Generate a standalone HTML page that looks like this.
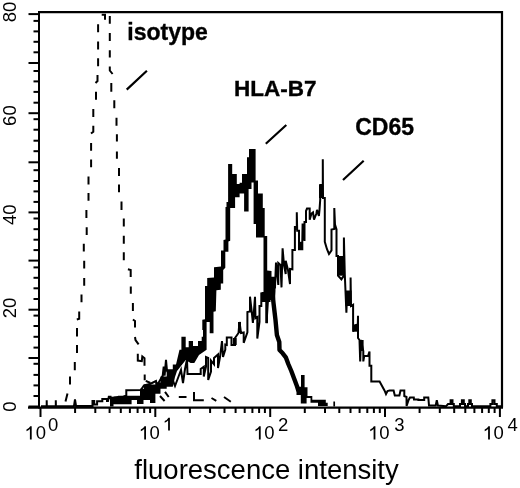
<!DOCTYPE html>
<html><head><meta charset="utf-8"><style>
html,body{margin:0;padding:0;background:#fff;}
body{width:520px;height:488px;position:relative;overflow:hidden;font-family:"Liberation Sans",sans-serif;}
svg{position:absolute;left:0;top:0;filter:grayscale(1);}
</style></head><body>
<svg width="520" height="488" viewBox="0 0 520 488">
<path d="M39 12.1 H502 V407.5" fill="none" stroke="#000" stroke-width="2.2"/>
<path d="M39 11 V408.5" fill="none" stroke="#000" stroke-width="2"/>
<path d="M28 407.6 H503" fill="none" stroke="#000" stroke-width="2.2"/>
<path d="M28.5 14.1 H39" stroke="#000" stroke-width="2"/>
<path d="M33.5 20.9 H39" stroke="#000" stroke-width="2"/>
<path d="M33.5 31.4 H39" stroke="#000" stroke-width="2"/>
<path d="M33.5 41.8 H39" stroke="#000" stroke-width="2"/>
<path d="M33.5 52.3 H39" stroke="#000" stroke-width="2"/>
<path d="M28.5 63 H39" stroke="#000" stroke-width="2"/>
<path d="M33.5 71 H39" stroke="#000" stroke-width="2"/>
<path d="M33.5 81.4 H39" stroke="#000" stroke-width="2"/>
<path d="M33.5 91.9 H39" stroke="#000" stroke-width="2"/>
<path d="M33.5 102.7 H39" stroke="#000" stroke-width="2"/>
<path d="M28.5 113.2 H39" stroke="#000" stroke-width="2"/>
<path d="M33.5 119.2 H39" stroke="#000" stroke-width="2"/>
<path d="M33.5 129.7 H39" stroke="#000" stroke-width="2"/>
<path d="M33.5 140.7 H39" stroke="#000" stroke-width="2"/>
<path d="M33.5 151.2 H39" stroke="#000" stroke-width="2"/>
<path d="M28.5 162.3 H39" stroke="#000" stroke-width="2"/>
<path d="M33.5 170.2 H39" stroke="#000" stroke-width="2"/>
<path d="M33.5 181 H39" stroke="#000" stroke-width="2"/>
<path d="M33.5 191.4 H39" stroke="#000" stroke-width="2"/>
<path d="M33.5 201.9 H39" stroke="#000" stroke-width="2"/>
<path d="M28.5 212.4 H39" stroke="#000" stroke-width="2"/>
<path d="M33.5 218.5 H39" stroke="#000" stroke-width="2"/>
<path d="M33.5 229.2 H39" stroke="#000" stroke-width="2"/>
<path d="M33.5 239.7 H39" stroke="#000" stroke-width="2"/>
<path d="M33.5 250.1 H39" stroke="#000" stroke-width="2"/>
<path d="M28.5 260.6 H39" stroke="#000" stroke-width="2"/>
<path d="M33.5 267.4 H39" stroke="#000" stroke-width="2"/>
<path d="M33.5 277.8 H39" stroke="#000" stroke-width="2"/>
<path d="M33.5 288.3 H39" stroke="#000" stroke-width="2"/>
<path d="M33.5 299 H39" stroke="#000" stroke-width="2"/>
<path d="M28.5 309.7 H39" stroke="#000" stroke-width="2"/>
<path d="M33.5 315.6 H39" stroke="#000" stroke-width="2"/>
<path d="M33.5 326 H39" stroke="#000" stroke-width="2"/>
<path d="M33.5 336.8 H39" stroke="#000" stroke-width="2"/>
<path d="M33.5 347.6 H39" stroke="#000" stroke-width="2"/>
<path d="M28.5 358 H39" stroke="#000" stroke-width="2"/>
<path d="M33.5 363.8 H39" stroke="#000" stroke-width="2"/>
<path d="M33.5 374.9 H39" stroke="#000" stroke-width="2"/>
<path d="M33.5 385.4 H39" stroke="#000" stroke-width="2"/>
<path d="M33.5 396 H39" stroke="#000" stroke-width="2"/>
<path d="M28.5 406.5 H39" stroke="#000" stroke-width="2"/>
<path d="M40.5 407.5 V417" stroke="#000" stroke-width="2"/>
<path d="M75.1 407.5 V413" stroke="#000" stroke-width="2"/>
<path d="M95.3 407.5 V413" stroke="#000" stroke-width="2"/>
<path d="M109.6 407.5 V413" stroke="#000" stroke-width="2"/>
<path d="M120.8 407.5 V413" stroke="#000" stroke-width="2"/>
<path d="M129.9 407.5 V413" stroke="#000" stroke-width="2"/>
<path d="M137.6 407.5 V413" stroke="#000" stroke-width="2"/>
<path d="M144.2 407.5 V413" stroke="#000" stroke-width="2"/>
<path d="M150.1 407.5 V413" stroke="#000" stroke-width="2"/>
<path d="M155.3 407.5 V417" stroke="#000" stroke-width="2"/>
<path d="M189.9 407.5 V413" stroke="#000" stroke-width="2"/>
<path d="M210.1 407.5 V413" stroke="#000" stroke-width="2"/>
<path d="M224.5 407.5 V413" stroke="#000" stroke-width="2"/>
<path d="M235.6 407.5 V413" stroke="#000" stroke-width="2"/>
<path d="M244.7 407.5 V413" stroke="#000" stroke-width="2"/>
<path d="M252.4 407.5 V413" stroke="#000" stroke-width="2"/>
<path d="M259.1 407.5 V413" stroke="#000" stroke-width="2"/>
<path d="M264.9 407.5 V413" stroke="#000" stroke-width="2"/>
<path d="M270.2 407.5 V417" stroke="#000" stroke-width="2"/>
<path d="M304.8 407.5 V413" stroke="#000" stroke-width="2"/>
<path d="M325.0 407.5 V413" stroke="#000" stroke-width="2"/>
<path d="M339.3 407.5 V413" stroke="#000" stroke-width="2"/>
<path d="M350.5 407.5 V413" stroke="#000" stroke-width="2"/>
<path d="M359.6 407.5 V413" stroke="#000" stroke-width="2"/>
<path d="M367.3 407.5 V413" stroke="#000" stroke-width="2"/>
<path d="M373.9 407.5 V413" stroke="#000" stroke-width="2"/>
<path d="M379.8 407.5 V413" stroke="#000" stroke-width="2"/>
<path d="M385.0 407.5 V417" stroke="#000" stroke-width="2"/>
<path d="M419.6 407.5 V413" stroke="#000" stroke-width="2"/>
<path d="M439.8 407.5 V413" stroke="#000" stroke-width="2"/>
<path d="M454.2 407.5 V413" stroke="#000" stroke-width="2"/>
<path d="M465.3 407.5 V413" stroke="#000" stroke-width="2"/>
<path d="M474.4 407.5 V413" stroke="#000" stroke-width="2"/>
<path d="M482.1 407.5 V413" stroke="#000" stroke-width="2"/>
<path d="M488.8 407.5 V413" stroke="#000" stroke-width="2"/>
<path d="M494.6 407.5 V413" stroke="#000" stroke-width="2"/>
<path d="M499.9 407.5 V417" stroke="#000" stroke-width="2"/>
<path d="M31.70 426.30 L31.70 439.50 L29.90 439.50 L29.90 429.10 Q28.60 430.70 26.50 431.30 L26.50 429.60 Q29.00 428.70 30.20 426.30 Z"/>
<text font-family="Liberation Sans" font-size="18.5" x="35.8" y="439.3">0</text>
<text font-family="Liberation Sans" font-size="18.5" x="48.0" y="430.7">0</text>
<path d="M146.00 426.30 L146.00 439.50 L144.20 439.50 L144.20 429.10 Q142.90 430.70 140.80 431.30 L140.80 429.60 Q143.30 428.70 144.50 426.30 Z"/>
<text font-family="Liberation Sans" font-size="18.5" x="149.6" y="439.3">0</text>
<path d="M169.90 417.80 L169.90 430.60 L168.10 430.60 L168.10 420.60 Q166.80 422.20 164.70 422.80 L164.70 421.10 Q167.20 420.20 168.40 417.80 Z"/>
<path d="M260.70 426.30 L260.70 439.50 L258.90 439.50 L258.90 429.10 Q257.60 430.70 255.50 431.30 L255.50 429.60 Q258.00 428.70 259.20 426.30 Z"/>
<text font-family="Liberation Sans" font-size="18.5" x="264.3" y="439.3">0</text>
<text font-family="Liberation Sans" font-size="18.5" x="277.9" y="430.7">2</text>
<path d="M375.40 426.30 L375.40 439.50 L373.60 439.50 L373.60 429.10 Q372.30 430.70 370.20 431.30 L370.20 429.60 Q372.70 428.70 373.90 426.30 Z"/>
<text font-family="Liberation Sans" font-size="18.5" x="379.3" y="439.3">0</text>
<text font-family="Liberation Sans" font-size="18.5" x="394.3" y="430.7">3</text>
<path d="M489.90 426.30 L489.90 439.50 L488.10 439.50 L488.10 429.10 Q486.80 430.70 484.70 431.30 L484.70 429.60 Q487.20 428.70 488.40 426.30 Z"/>
<text font-family="Liberation Sans" font-size="18.5" x="493.5" y="439.3">0</text>
<text font-family="Liberation Sans" font-size="18.5" x="507.6" y="430.7">4</text>
<text font-family="Liberation Sans" font-size="18.5" text-anchor="middle" transform="translate(16,12.0) rotate(-90)">80</text>
<text font-family="Liberation Sans" font-size="18.5" text-anchor="middle" transform="translate(16,115.6) rotate(-90)">60</text>
<text font-family="Liberation Sans" font-size="18.5" text-anchor="middle" transform="translate(16,214.7) rotate(-90)">40</text>
<text font-family="Liberation Sans" font-size="18.5" text-anchor="middle" transform="translate(16,307.9) rotate(-90)">20</text>
<text font-family="Liberation Sans" font-size="18.5" text-anchor="middle" transform="translate(16,406.5) rotate(-90)">0</text>
<text font-family="Liberation Sans" font-size="27.5" x="134.3" y="478.8">fluorescence intensity</text>
<text font-family="Liberation Sans" font-size="23" font-weight="bold" stroke="#000" stroke-width="0.35" x="127.3" y="40.2">isotype</text>
<text font-family="Liberation Sans" font-size="22.5" font-weight="bold" stroke="#000" stroke-width="0.35" x="234" y="95.5">HLA-B7</text>
<text font-family="Liberation Sans" font-size="23" font-weight="bold" stroke="#000" stroke-width="0.35" x="355.2" y="134.5">CD65</text>
<path d="M126.7 89.6 L146.9 70.8 M265.8 143.8 L286.3 125 M343 180 L363.7 160.8" stroke="#000" stroke-width="2.2"/>
<polygon points="110.0,406.5 110.0,398.0 114.0,398.0 114.0,396.8 118.0,396.8 118.0,395.8 140.0,395.8 140.0,388.7 144.0,388.7 144.0,384.6 155.4,384.6 155.4,382.6 160.5,382.6 160.5,376.4 166.7,376.4 166.7,369.2 172.8,369.2 172.8,364.4 176.0,364.4 179.5,349.7 181.4,349.7 181.4,336.8 185.7,336.8 185.7,347.2 188.7,347.2 188.7,341.0 193.0,341.0 193.0,346.0 198.0,346.0 198.0,341.0 201.7,341.0 201.7,336.8 203.0,336.8 203.0,330.0 202.3,330.0 202.3,319.8 205.0,319.2 205.0,286.0 207.2,286.0 207.2,278.0 214.0,277.4 214.0,267.2 221.0,266.6 221.0,250.6 223.5,250.6 223.5,240.0 225.5,239.5 225.5,207.0 226.5,207.0 226.5,202.0 228.1,202.0 228.1,163.9 232.2,163.9 232.2,174.1 236.8,174.1 236.8,184.0 239.6,184.0 239.6,182.7 242.0,182.7 242.0,174.1 247.0,174.1 247.0,157.3 249.0,157.3 249.0,148.9 255.6,148.9 255.6,180.5 258.0,180.5 258.0,193.4 262.8,193.4 262.8,208.1 264.7,208.1 264.7,236.0 267.2,236.0 267.2,270.5 271.5,271.0 271.5,276.7 275.5,276.7 275.5,291.0 275.0,300.0 270.5,300.0 270.5,302.0 268.0,302.0 268.0,323.3 265.5,323.3 265.5,302.0 261.8,302.0 261.8,292.0 263.5,292.0 263.5,237.5 256.0,237.5 256.0,224.0 253.6,224.0 253.6,182.5 251.5,182.5 251.5,189.0 248.6,189.0 248.6,211.6 244.1,211.6 244.1,193.5 239.6,193.5 239.6,197.2 235.1,197.2 235.1,207.9 230.2,207.9 230.2,240.8 228.4,241.4 228.4,251.8 225.3,251.8 225.3,267.8 223.2,270.0 223.2,283.5 220.8,283.5 220.8,289.7 216.4,290.3 215.8,311.2 213.5,311.8 213.5,333.3 209.7,333.3 209.7,322.0 206.6,322.0 206.6,349.7 199.0,355.0 194.3,363.0 190.6,363.0 185.7,360.0 181.0,366.0 177.0,371.0 175.0,377.0 172.8,386.7 166.7,386.7 166.7,388.7 160.5,388.7 160.5,393.8 155.4,393.8 155.4,403.0 150.0,403.0 150.0,400.0 143.5,400.0 143.5,404.0 137.0,404.0 137.0,400.0 131.6,400.0 131.6,404.2 113.5,404.2 113.5,406.5" fill="#000"/>
<polyline points="272.6,294.0 273.5,303.0 275.5,320.0 276.9,335.0 279.3,342.0 279.5,350.0 282.7,353.3 285.8,357.3 288.3,364.0 291.3,371.0 294.2,378.7 296.9,386.0 298.5,391.0" fill="none" stroke="#000" stroke-width="4.4" stroke-linejoin="round"/>
<polygon points="296.5,386.7 301.0,386.7 301.0,375.0 304.6,375.0 304.6,387.3 307.5,387.3 307.5,396.0 312.3,396.0 312.3,399.8 325.8,399.8 325.8,402.7 327.7,402.7 327.7,406.0 318.0,406.0 318.0,402.7 310.5,402.7 310.5,398.0 306.6,398.0 306.6,403.5 300.8,403.5 300.8,395.0 296.5,395.0 296.5,386.7 296.5,386.7"/>
<path d="M334.2 401.5 V406.5" stroke="#000" stroke-width="1.7"/>
<polyline points="41.0,406.3 46.7,406.3 46.7,400.3 46.8,406.3 55.8,406.3 55.8,400.3 55.9,406.3 74.0,406.0 75.0,399.5 76.0,406.0 92.5,406.0 92.5,401.0 94.2,401.0 94.2,404.5 97.1,404.5 97.1,401.2 102.3,401.2 102.3,399.0 107.0,399.0 107.0,401.0 108.0,401.0 108.8,396.8 110.5,396.8 110.5,398.0 118.0,397.0 123.0,397.0 126.3,395.5 126.3,390.3 140.8,390.0 144.0,385.5 150.0,384.0 156.0,381.0 157.0,385.5 161.5,377.6 162.0,382.0 163.7,366.5 164.6,375.7 166.0,359.8 167.0,370.8 172.0,378.0 175.0,386.0 178.0,378.0 181.0,370.0 183.0,383.0 185.0,369.0 187.0,359.4 187.5,374.0 200.7,374.0 200.7,369.0 203.8,366.7 203.8,376.6 206.0,366.7 206.0,357.0 208.2,358.0 208.2,380.0 211.0,371.7 211.0,360.6 214.0,364.3 214.0,358.0 218.0,354.4 218.0,368.0 220.0,357.0 222.0,341.0 223.0,357.0 225.3,349.5 225.3,344.6 226.8,345.0 226.8,337.5 231.5,337.5 231.5,345.0 235.0,345.0 235.0,338.0 238.5,333.0 239.5,322.0 241.0,333.0 243.7,332.4 243.7,342.8 247.4,332.4 247.4,312.0 250.0,311.4 250.0,296.7 251.5,309.6 252.9,323.0 254.0,310.0 255.0,296.7 255.5,318.2 257.3,317.0 257.3,338.5 259.5,322.0 259.5,306.0 261.3,306.0 261.3,292.4 263.0,300.0 266.5,297.3 266.5,323.0 268.0,300.0 270.0,290.0 272.0,285.0 275.0,287.0 276.0,262.5 278.3,285.0 278.3,263.0 280.5,265.0 281.5,287.4 282.6,248.4 284.0,265.0 285.7,274.0 285.7,260.7 288.0,270.0 290.0,284.0 290.0,269.0 292.4,269.3 292.4,250.0 294.9,250.0 294.9,227.0 296.8,227.0 296.8,212.3 297.2,230.7 299.0,230.7 299.0,249.2 302.3,249.2 302.3,241.8 302.6,223.4 304.5,241.0 304.5,222.0 306.0,222.0 306.0,211.0 307.0,208.6 309.7,208.6 309.7,219.7 311.5,213.5 313.0,212.3 314.0,219.7 316.4,213.5 317.0,209.8 318.9,216.0 319.5,209.8 320.2,200.0 320.2,185.0 322.8,185.0 322.8,159.2 323.0,198.0 324.8,198.0 324.8,241.8 327.0,249.2 329.0,254.0 331.5,250.4 331.5,229.5 334.3,229.0 334.3,208.0 335.0,224.6 336.5,229.5 336.5,256.0 338.0,256.0 338.0,275.6 341.4,279.3 343.9,275.6 343.9,237.5 344.8,274.4 346.4,312.7 347.0,295.0 350.6,295.0 350.6,277.4 351.0,306.0 353.1,304.7 353.1,331.7 356.0,325.0 357.8,324.4 358.0,315.7 358.0,338.0 359.5,340.0 360.2,361.4 361.0,340.0 362.0,345.0 363.3,351.0 363.3,361.4 364.2,356.0 368.0,356.0 369.5,351.6 369.5,365.7 371.3,365.7 371.3,381.5 379.6,381.5 384.5,390.4 386.0,394.0 387.5,391.0 389.6,390.5 393.6,390.5 394.8,395.5 399.4,395.5 400.5,390.5 404.3,390.5 404.3,396.0 406.5,397.0 406.6,406.0 408.6,400.0 410.0,397.5 413.8,397.5 414.0,399.5 418.4,399.5 418.4,400.0 424.2,400.0 424.2,397.5 428.3,397.5 429.0,405.5 435.7,405.5 436.8,400.3 437.9,405.5 446.0,406.3 448.0,404.0 450.6,404.0 450.6,400.3 452.5,400.3 452.5,404.0 453.8,404.0 453.8,406.3 460.0,406.3 460.0,404.0 461.9,404.0 461.9,400.3 463.8,400.3 463.8,404.0 465.0,404.0 465.0,406.3 468.0,406.3 468.0,404.0 469.3,404.0 469.3,400.3 470.8,400.3 470.8,404.0 472.0,404.0 472.0,406.3 490.4,406.3 490.4,404.0 492.4,404.0 492.4,400.3 494.5,400.3 494.5,404.0 496.8,404.0 496.8,406.3 501.0,406.3" fill="none" stroke="#000" stroke-width="2"/>
<rect x="337.3" y="256" width="7.4" height="19.7"/><rect x="345.5" y="290.5" width="6.1" height="15.5"/><rect x="353.5" y="324.4" width="4.3" height="7.3"/><rect x="359.3" y="340" width="4.3" height="11.0"/><rect x="319" y="185" width="4.3" height="13.0"/><rect x="298.6" y="241.8" width="3.7" height="7.4"/><rect x="295" y="227" width="1.8" height="3.0"/><rect x="238" y="322" width="3.0" height="11.0"/><rect x="233" y="338" width="3.7" height="7.0"/>
<path d="M101.7 14.7 L105.0 14.7 L105.0 19.7 M98.1 24.3 L98.1 32.3 M98.1 41.5 L98.1 49.5 M98.1 58.2 L98.1 66.2 M95.5 83.0 L97.5 81.0 L97.5 75.0 M96.0 91.7 L96.0 99.7 M93.3 109.0 L93.3 117.0 M91.0 133.5 L93.3 131.7 L93.3 125.7 M91.1 142.9 L91.1 150.8 M91.1 159.4 L91.1 167.3 M88.5 176.6 L88.5 184.5 M88.5 193.0 L88.5 200.7 M86.4 210.0 L86.4 218.0 M86.7 227.3 L86.7 235.0 M83.8 243.7 L83.8 251.6 M84.2 260.7 L84.2 268.6 M84.2 278.0 L84.2 285.8 M81.5 294.4 L81.5 302.3 M76.8 319.5 L79.2 318.8 L79.2 311.6 M77.0 327.9 L77.0 336.5 M77.0 345.0 L77.0 353.0 M74.8 362.0 L74.8 370.2 M70.0 376.6 L70.0 384.5 M65.5 401.5 L67.5 393.5 M109.8 16.1 L109.8 23.7 M109.8 32.9 L109.8 40.9 M109.8 50.2 L109.8 57.5 M109.8 66.5 L109.8 70.5 L112.6 74.0 M111.3 83.0 L111.3 91.7 M114.3 100.3 L114.3 108.3 M116.5 117.7 L116.5 125.7 M116.9 134.3 L116.9 141.5 M116.9 151.5 L116.9 158.7 M119.0 168.0 L119.0 175.9 M119.0 184.5 L119.0 192.3 M121.5 201.4 L121.5 210.0 M123.8 218.6 L123.8 226.5 M123.8 235.8 L123.8 243.7 M123.8 252.3 L123.8 260.2 M127.9 269.3 L130.7 270.0 L130.7 277.0 M130.8 286.5 L130.8 293.7 M132.9 303.0 L132.9 310.9 M132.9 319.5 L135.0 321.0 L135.0 327.4 M135.0 337.0 L135.5 340.0 L138.6 344.4 M137.8 353.8 L137.8 360.6 L141.8 361.2 L142.3 356.5 L144.5 358.3 L144.5 365.8 M144.7 374.5 L144.7 380.2 M145.8 380.8 L150.4 383.0 M160.0 396.0 L164.6 401.0 M165.0 391.8 L168.7 397.0 M178.8 397.0 L186.5 397.0 M194.0 392.0 L194.0 400.3 L203.8 400.3 M211.5 398.0 L216.3 400.8 M224.0 397.0 L230.8 401.7" fill="none" stroke="#000" stroke-width="2"/>
</svg>
</body></html>
